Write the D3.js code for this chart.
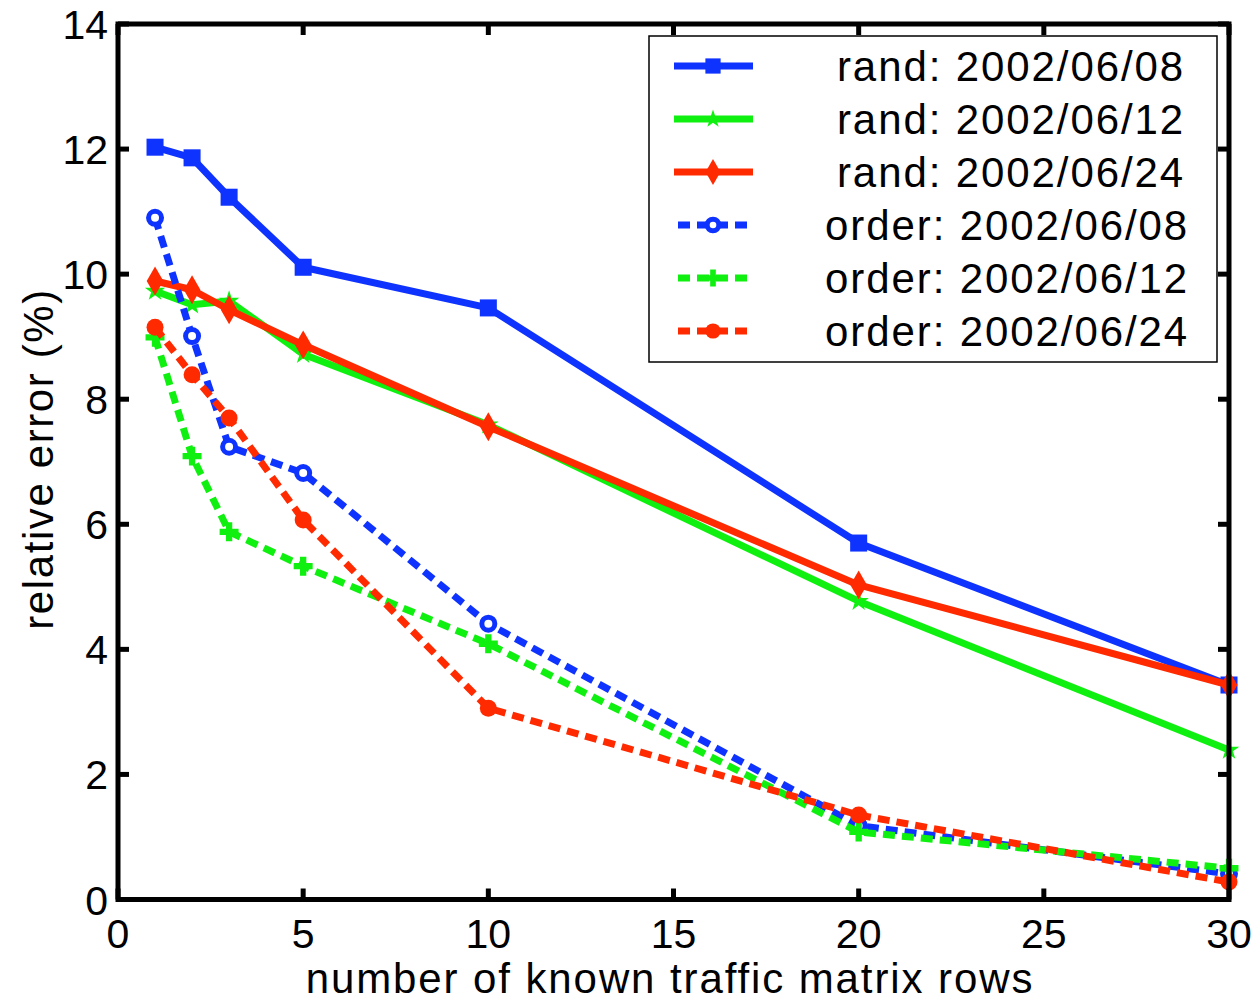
<!DOCTYPE html>
<html><head><meta charset="utf-8">
<script src="https://cdn.jsdelivr.net/npm/d3@7"></script>
<style>body{margin:0;background:#fff}svg{display:block}text{font-family:"Liberation Sans",Arial,sans-serif;fill:#000}</style>
</head><body><svg id="c" width="1255" height="1002"></svg>
<script>
const xVals = [1, 2, 3, 5, 10, 20, 30];
const rand0608 = [12.03, 11.86, 11.23, 10.11, 9.46, 5.70, 3.43];
const rand0612 = [9.73, 9.51, 9.57, 8.72, 7.59, 4.77, 2.39];
const rand0624 = [9.89, 9.75, 9.43, 8.87, 7.56, 5.03, 3.43];
const order0608 = [10.90, 9.01, 7.24, 6.82, 4.41, 1.18, 0.41];
const order0612 = [8.99, 7.09, 5.88, 5.33, 4.09, 1.08, 0.50];
const order0624 = [9.15, 8.39, 7.70, 6.07, 3.06, 1.35, 0.28];
const seriesNames = ["rand: 2002/06/08","rand: 2002/06/12","rand: 2002/06/24","order: 2002/06/08","order: 2002/06/12","order: 2002/06/24"];
const xTicks = [0, 5, 10, 15, 20, 25, 30];
const yTicks = [0, 2, 4, 6, 8, 10, 12, 14];
const xTitle = "number of known traffic matrix rows";
const yTitle = "relative error (%)";

const BLUE = "#0f33ff", GREEN = "#10f010", RED = "#ff2a00";
const styles = [
  {c: BLUE, dash: null, m: "square"},
  {c: GREEN, dash: null, m: "star"},
  {c: RED, dash: null, m: "diamond"},
  {c: BLUE, dash: "12,7", m: "ring"},
  {c: GREEN, dash: "12,7", m: "plus"},
  {c: RED, dash: "12,7", m: "dot"}
];
const data = [rand0608, rand0612, rand0624, order0608, order0612, order0624];

const svg = d3.select("#c");
const L = 118, R = 1229, T = 24, B = 899.5;
const x = d3.scaleLinear().domain([0, 30]).range([L, R]);
const y = d3.scaleLinear().domain([0, 14]).range([B, T]);

const plot = svg.append("g");
const line = d3.line().x((d, i) => x(xVals[i])).y(d => y(d));

function marker(g, type, c, px, py, k) {
  k = k || 1;
  const tr = `translate(${px},${py})`;
  if (type === "square") g.append("path").attr("d", d3.symbol(d3.symbolSquare, 290 * k)()).attr("transform", tr).attr("fill", c);
  else if (type === "diamond") g.append("path").attr("d", d3.symbol(d3.symbolDiamond, 240 * k)()).attr("transform", tr).attr("fill", c);
  else if (type === "star") g.append("path").attr("d", d3.symbol(d3.symbolStar, 130 * k)()).attr("transform", tr).attr("fill", c);
  else if (type === "plus") g.append("path").attr("d", d3.symbol(d3.symbolCross, 200 * k)()).attr("transform", tr).attr("fill", c);
  else if (type === "dot") g.append("circle").attr("cx", px).attr("cy", py).attr("r", 8.5 * Math.sqrt(k)).attr("fill", c);
  else if (type === "ring") g.append("circle").attr("cx", px).attr("cy", py).attr("r", 6.5 * Math.sqrt(k)).attr("fill", "#fff").attr("stroke", c).attr("stroke-width", 5);
}

data.forEach((vals, si) => {
  const s = styles[si];
  const g = plot.append("g");
  g.append("path").datum(vals).attr("d", line).attr("fill", "none")
    .attr("stroke", s.c).attr("stroke-width", 7).attr("stroke-linejoin", "round")
    .attr("stroke-dasharray", s.dash);
  vals.forEach((v, i) => marker(g, s.m, s.c, x(xVals[i]), y(v)));
});

// frame
svg.append("rect").attr("x", L).attr("y", T).attr("width", R - L).attr("height", B - T)
  .attr("fill", "none").attr("stroke", "#000").attr("stroke-width", 5);

// ticks inward
const tk = 11;
const ax = svg.append("g");
xTicks.forEach(t => {
  ax.append("line").attr("x1", x(t)).attr("x2", x(t)).attr("y1", B).attr("y2", B - tk).attr("stroke", "#000").attr("stroke-width", 5);
  ax.append("line").attr("x1", x(t)).attr("x2", x(t)).attr("y1", T).attr("y2", T + tk).attr("stroke", "#000").attr("stroke-width", 5);
  ax.append("text").attr("x", x(t)).attr("y", 948).attr("text-anchor", "middle").attr("font-size", 41).text(t);
});
yTicks.forEach(t => {
  ax.append("line").attr("x1", L).attr("x2", L + tk).attr("y1", y(t)).attr("y2", y(t)).attr("stroke", "#000").attr("stroke-width", 5);
  ax.append("line").attr("x1", R).attr("x2", R - tk).attr("y1", y(t)).attr("y2", y(t)).attr("stroke", "#000").attr("stroke-width", 5);
  ax.append("text").attr("x", 108).attr("y", y(t) + 15).attr("text-anchor", "end").attr("font-size", 41).text(t);
});

svg.append("text").attr("x", 670).attr("y", 993).attr("text-anchor", "middle").attr("font-size", 42)
  .attr("letter-spacing", 1.9).text(xTitle);
svg.append("text").attr("transform", "translate(53,459) rotate(-90)").attr("text-anchor", "middle").attr("font-size", 42)
  .attr("letter-spacing", 1.6).text(yTitle);

// legend
const lg = svg.append("g");
lg.append("rect").attr("x", 649).attr("y", 36).attr("width", 568).attr("height", 326)
  .attr("fill", "#fff").attr("stroke", "#000").attr("stroke-width", 1.5);
seriesNames.forEach((name, i) => {
  const s = styles[i];
  const cy = 66 + i * 53;
  lg.append("line").attr("x1", s.dash ? 678 : 674).attr("x2", 753).attr("y1", cy).attr("y2", cy)
    .attr("stroke", s.c).attr("stroke-width", 7).attr("stroke-dasharray", s.dash);
  marker(lg, s.m, s.c, 713, cy, 0.8);
  lg.append("text").attr("x", i < 3 ? 1185 : 1189).attr("y", cy + 15).attr("text-anchor", "end")
    .attr("font-size", 42).attr("letter-spacing", 1.9).text(name);
});
</script></body></html>
